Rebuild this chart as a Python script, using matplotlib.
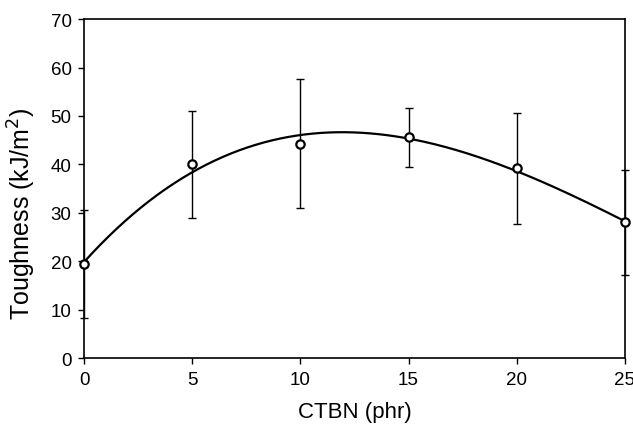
import numpy as np
import matplotlib
matplotlib.use('Agg')
import matplotlib.pyplot as plt

# data
ctbn = [0, 5, 10, 15, 20, 25]
toughness = [19.4, 40.0, 44.3, 45.6, 39.2, 28.0]
err = [11.2, 11.0, 13.3, 6.1, 11.5, 10.8]

plt.rcParams['font.family'] = ['Liberation Sans', 'DejaVu Sans']

fig = plt.figure(figsize=(6.33, 4.27), dpi=100)
ax = fig.add_axes([0.133, 0.159, 0.854, 0.794])

# polynomial trend line (order 3) through the data
coef = np.polyfit(ctbn, toughness, 3)
xs = np.linspace(0, 25, 200)
ax.plot(xs, np.polyval(coef, xs), color='black', lw=1.6, zorder=2)

ax.errorbar(ctbn, toughness, yerr=err, fmt='none', ecolor='black',
            elinewidth=1, capsize=3, capthick=1, zorder=3, clip_on=False)
ax.plot(ctbn, toughness, 'o', ms=6, mfc='white', mec='black', mew=1.6,
        zorder=4, clip_on=False)

ax.set_xlim(0, 25)
ax.set_ylim(0, 70)
ax.set_xticks(range(0, 26, 5))
ax.set_yticks(range(0, 71, 10))
ax.tick_params(direction='out', length=4, width=1, labelsize=13.5, pad=5)
ax.tick_params(axis='y', left=True, right=False)
ax.tick_params(axis='x', top=False)
for s in ax.spines.values():
    s.set_linewidth(1.2)

ax.set_xlabel('CTBN (phr)', fontsize=16, labelpad=10)
ax.set_ylabel('Toughness (kJ/m$^2$)', fontsize=18)
ax.yaxis.set_label_coords(-0.085, 0.43)

fig.savefig('out.png', dpi=100)
